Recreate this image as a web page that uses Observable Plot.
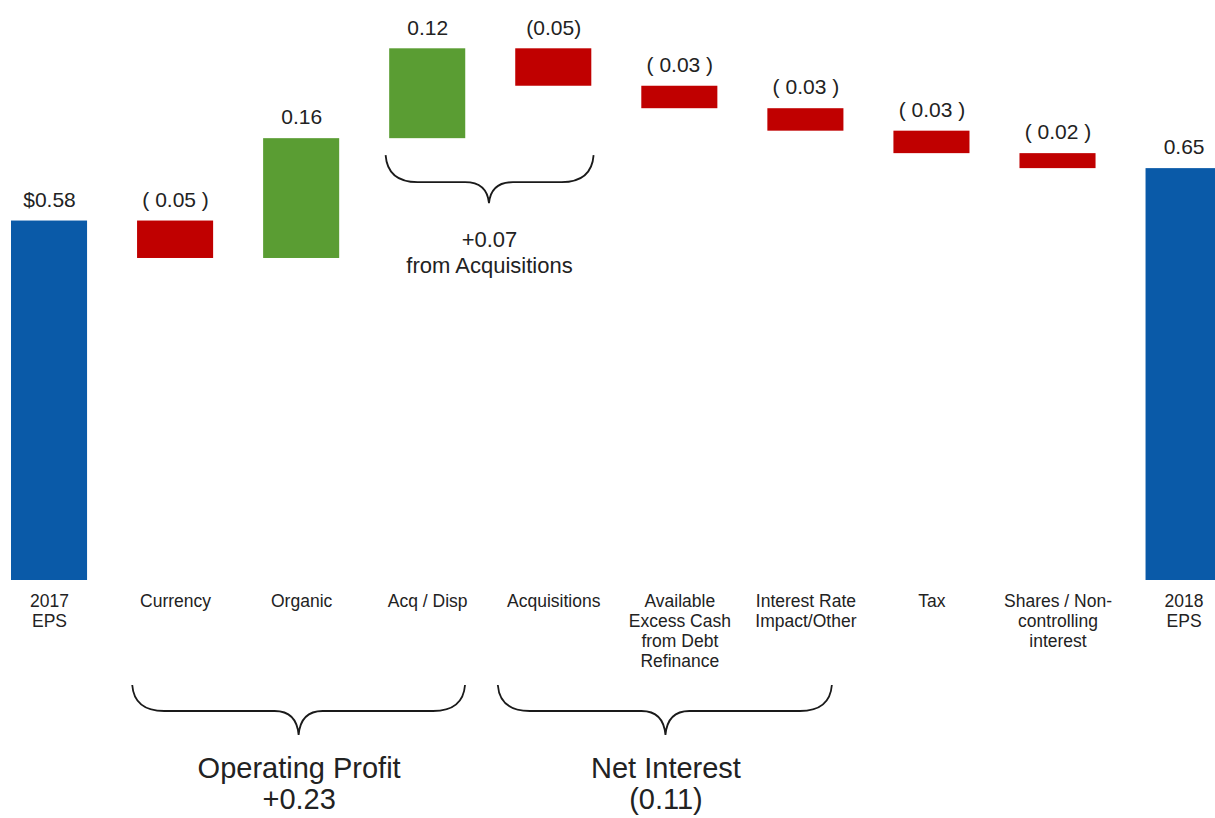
<!DOCTYPE html>
<html><head><meta charset="utf-8">
<script src="https://cdn.jsdelivr.net/npm/d3@7"></script>
<script src="https://cdn.jsdelivr.net/npm/@observablehq/plot@0.6"></script>
<style>body{margin:0;background:#fff} svg{display:block}</style>
</head><body><div id="chart"></div>
<script>
// ---- data ----
const categories = ["2017\nEPS", "Currency", "Organic", "Acq / Disp", "Acquisitions",
  "Available\nExcess Cash\nfrom Debt\nRefinance", "Interest Rate\nImpact/Other", "Tax",
  "Shares / Non-\ncontrolling\ninterest", "2018\nEPS"];
const values = [0.58, -0.05, 0.16, 0.12, -0.05, -0.03, -0.03, -0.03, -0.02, 0.65];
const kinds = ["total", "delta", "delta", "delta", "delta", "delta", "delta", "delta", "delta", "total"];
const valueLabels = ["$0.58", "( 0.05 )", "0.16", "0.12", "(0.05)", "( 0.03 )", "( 0.03 )", "( 0.03 )", "( 0.02 )", "0.65"];
const axisFloor = 0.1; // truncated value axis start

// brace groups (positions in category-index units)
const groupLabels = ["+0.07\nfrom Acquisitions", "Operating Profit\n+0.23", "Net Interest\n(0.11)"];
const groupStart = [2.67, 0.66, 3.56];
const groupEnd = [4.32, 3.30, 6.21];
const groupTip = [3.49, 1.98, 4.89];
const groupPlace = ["top", "bottom", "bottom"];

const colors = {total: "#0a5aa8", up: "#5a9d33", down: "#c00000"};

// ---- build rows ----
let running = 0;
const rows = categories.map((cat, i) => {
  let y1, y2, color;
  if (kinds[i] === "total") { y1 = axisFloor; y2 = values[i]; running = values[i]; color = colors.total; }
  else { y1 = running; y2 = running + values[i]; running = y2; color = values[i] >= 0 ? colors.up : colors.down; }
  return {i, cat, y1, y2, top: Math.max(y1, y2), bottom: Math.min(y1, y2), color, label: valueLabels[i]};
});
const groups = groupLabels.map((label, k) => ({
  label, start: groupStart[k], end: groupEnd[k], tip: groupTip[k], place: groupPlace[k],
  anchor: groupPlace[k] === "top"
    ? Math.min(...rows.filter(r => r.i >= groupStart[k] && r.i <= groupEnd[k]).map(r => r.bottom))
    : axisFloor
}));

// brace drawing via scales
function braces(index, scales) {
  const g = d3.create("svg:g").attr("fill", "none").attr("stroke", "#1a1a1a").attr("stroke-width", 1.8);
  for (const b of groups) {
    const x0 = scales.x(b.start), x1 = scales.x(b.end), xc = scales.x(b.tip);
    const base = scales.y(b.anchor);
    const yTop = base + (b.place === "top" ? 17 : 105);
    const yMid = yTop + (b.place === "top" ? 27 : 26);
    const yTip = yMid + (b.place === "top" ? 21 : 24);
    const r = 32, r2 = 24;
    const p = d3.path();
    p.moveTo(x0, yTop);
    p.quadraticCurveTo(x0 + 2, yMid, x0 + r, yMid);
    p.lineTo(xc - r2, yMid);
    p.quadraticCurveTo(xc - 2, yMid, xc, yTip);
    p.quadraticCurveTo(xc + 2, yMid, xc + r2, yMid);
    p.lineTo(x1 - r, yMid);
    p.quadraticCurveTo(x1 - 2, yMid, x1, yTop);
    g.append("path").attr("d", p.toString());
  }
  return g.node();
}

const font = "'Liberation Sans', Arial, Helvetica, sans-serif";
const chart = Plot.plot({
  width: 1215, height: 818,
  marginTop: 0, marginBottom: 238, marginLeft: 0, marginRight: 0,
  x: {domain: [-0.5, 9.5], range: [-14, 1246.6], axis: null},
  y: {domain: [0.1, 0.81], range: [580, 48.3], axis: null},
  color: {type: "identity"},
  style: {fontFamily: font, background: "#fff"},
  marks: [
    Plot.rectY(rows, {x1: d => d.i - 0.5, x2: d => d.i + 0.5, y1: "y1", y2: "y2", fill: "color", insetLeft: 25, insetRight: 25}),
    Plot.text(rows, {x: "i", y: "top", text: "label", dy: -21, lineAnchor: "middle", fontSize: 21, fill: "#222"}),
    Plot.text(rows, {x: "i", y: () => axisFloor, text: "cat", dy: 12, lineAnchor: "top", fontSize: 17.5, lineHeight: 1.15, fill: "#222"}),
    braces,
    Plot.text(groups.filter(g => g.place === "bottom"), {x: "tip", y: "anchor", text: "label", dy: 175, lineAnchor: "top", fontSize: 29, lineHeight: 1.08, fill: "#222"}),
    Plot.text(groups.filter(g => g.place === "top"), {x: "tip", y: "anchor", text: "label", dy: 90, lineAnchor: "top", fontSize: 22, lineHeight: 1.18, fill: "#222"})
  ]
});
document.getElementById("chart").appendChild(chart);
</script>
</body></html>
